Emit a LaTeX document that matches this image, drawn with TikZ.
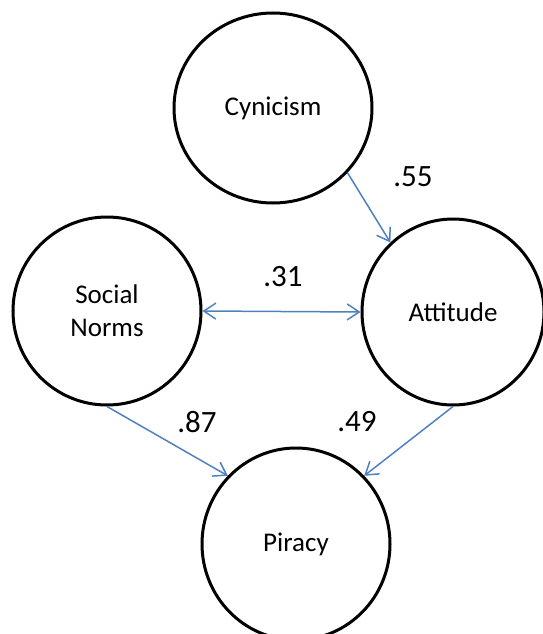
\documentclass[tikz,border=0pt]{standalone}
\usepackage{fontspec}
\setmainfont{Carlito}
\usetikzlibrary{arrows.meta,shapes.geometric}
\definecolor{pathblue}{RGB}{79, 129, 189}

\begin{document}
\begin{tikzpicture}[x=1pt,y=-1pt,
  latent/.style={draw, ellipse, line width=3pt, inner sep=0pt, align=center,
    font=\fontsize{27}{33}\selectfont},
  coef/.style={font=\fontsize{31}{36}\selectfont},
  effect/.style={draw=pathblue, line width=1.5pt,
    -{Straight Barb[length=12pt,width=16pt]}}]
\useasboundingbox (0,0) rectangle (543,634);

% Latent variables
\node[latent, minimum width=198pt, minimum height=190pt] (cyn) at (273,108) {Cynicism};
\node[latent, minimum width=188pt, minimum height=188pt] (soc) at (107,311) {Social\\Norms};
\node[latent, minimum width=182pt, minimum height=186pt] (att) at (453,312) {Attitude};
\node[latent, minimum width=188pt, minimum height=192pt] (pir) at (296,544) {Piracy};

% Paths
\draw[effect] (cyn.-41) -- (att.132);
\draw[effect, {Straight Barb[length=12pt,width=16pt]}-{Straight Barb[length=12pt,width=16pt]}] (soc.east) -- (att.west);
\draw[effect] (soc.south) -- (pir.135);
\draw[effect] (att.south) -- (pir.45);

% Coefficients
\node[coef] (c55) at (413,177) {.55};
\node[coef] (c31) at (283,277) {.31};
\node[coef] (c87) at (197,422) {.87};
\node[coef] (c49) at (357,422) {.49};
\end{tikzpicture}
\end{document}
